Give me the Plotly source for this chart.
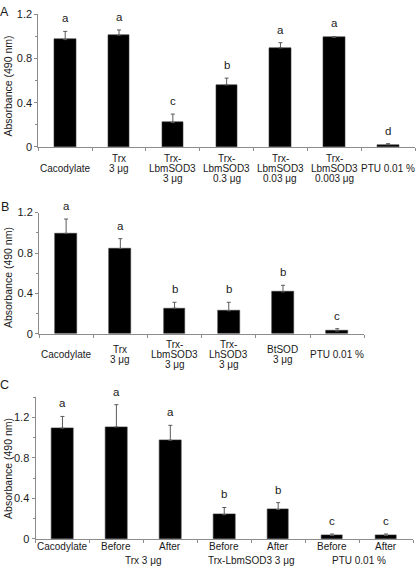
import plotly.graph_objects as go

# ---------------- data ----------------
A_labels = ["Cacodylate", "Trx\n3 μg", "Trx-\nLbmSOD3\n3 μg", "Trx-\nLbmSOD3\n0.3 μg",
            "Trx-\nLbmSOD3\n0.03 μg", "Trx-\nLbmSOD3\n0.003 μg", "PTU 0.01 %"]
A_values = [0.97, 1.01, 0.22, 0.56, 0.895, 0.99, 0.02]
A_errors = [0.074, 0.047, 0.077, 0.062, 0.047, 0.008, 0.01]
A_letters = ["a", "a", "c", "b", "a", "a", "d"]

B_labels = ["Cacodylate", "Trx\n3 μg", "Trx-\nLbmSOD3\n3 μg", "Trx-\nLhSOD3\n3 μg",
            "BtSOD\n3 μg", "PTU 0.01 %"]
B_values = [0.994, 0.845, 0.255, 0.229, 0.416, 0.029]
B_errors = [0.142, 0.097, 0.058, 0.084, 0.065, 0.023]
B_letters = ["a", "a", "b", "b", "b", "c"]

C_labels = ["Cacodylate", "Before", "After", "Before", "After", "Before", "After"]
C_groups = ["Trx 3 μg", "Trx-LbmSOD3 3 μg", "PTU 0.01 %"]
C_group_members = [[1, 2], [3, 4], [5, 6]]
C_values = [1.094, 1.106, 0.974, 0.239, 0.29, 0.033, 0.033]
C_errors = [0.116, 0.22, 0.148, 0.071, 0.068, 0.015, 0.015]
C_letters = ["a", "a", "a", "b", "b", "c", "c"]

y_ticks = [0, 0.4, 0.8, 1.2]
y_title = "Absorbance (490 nm)"

# ---------------- layout helpers ----------------
W, H = 416, 571
FONT = "Liberation Sans, Arial, sans-serif"
TXT = "#1a1a1a"
AXC = "#8c8c8c"


def fx(px):
    return px / W


def fy(px):
    return 1 - px / H


panels = [
    dict(name="A", labels=A_labels, values=A_values, errors=A_errors, letters=A_letters,
         x0=38.3, x1=415, ytop=8.3, ybot=144, ymax=1.2, row_c=165.9, row_sp=9.8, snap=True,
         title_y=82, letter_y=6.5),
    dict(name="B", labels=B_labels, values=B_values, errors=B_errors, letters=B_letters,
         x0=39, x1=364.3, ytop=211, ybot=335, ymax=1.2, row_c=355.7, row_sp=10, snap=False,
         title_y=277.7, letter_y=205),
    dict(name="C", labels=C_labels, values=C_values, errors=C_errors, letters=C_letters,
         x0=35.5, x1=413, ytop=399.6, ybot=544.3, ymax=1.4, row_c=552.6, row_sp=10, snap=False,
         title_y=472.7, letter_y=387.5),
]

fig = go.Figure()
annotations = []

for k, p in enumerate(panels, start=1):
    n = len(p["values"])
    xs = list(range(n))
    xa = "x" if k == 1 else f"x{k}"
    ya = "y" if k == 1 else f"y{k}"
    fig.add_trace(go.Bar(
        x=xs, y=p["values"], width=0.4,
        marker=dict(color="#000000", line=dict(color="#3a3a3a", width=0.6)),
        error_y=dict(type="data", array=p["errors"], arrayminus=[0] * n, symmetric=False,
                     color="#5a5a5a", thickness=1, width=2),
        xaxis=xa, yaxis=ya, showlegend=False, hoverinfo="skip",
    ))
    xkey = "xaxis" if k == 1 else f"xaxis{k}"
    ykey = "yaxis" if k == 1 else f"yaxis{k}"
    fig.layout[xkey] = dict(
        domain=[fx(p["x0"]), fx(p["x1"])], range=[-0.5, n - 0.5], anchor=ya,
        tickmode="array", tickvals=[i - 0.5 for i in range(n + 1)], showticklabels=False,
        ticks="outside", ticklen=3, tickcolor=AXC, showline=True, linecolor=AXC, linewidth=1,
        showgrid=False, zeroline=False, fixedrange=True,
    )
    fig.layout[ykey] = dict(
        domain=[fy(p["ybot"]), fy(p["ytop"])], range=[0, p["ymax"]], anchor=xa,
        tickmode="array", tickvals=y_ticks, ticktext=[f"{t:g}" for t in y_ticks],
        ticks="outside", ticklen=3, tickcolor=AXC, showline=True, linecolor=AXC, linewidth=1,
        minor=dict(tickmode="linear", tick0=0, dtick=0.2, ticks="outside", ticklen=2, tickcolor=AXC),
        showgrid=False, zeroline=False, fixedrange=True,
        tickfont=dict(family=FONT, size=11, color=TXT),
    )

    # significance letters
    for i, (v, e, L) in enumerate(zip(p["values"], p["errors"], p["letters"])):
        annotations.append(dict(x=i, y=v + e, xref=xa, yref=ya, text=L, showarrow=False,
                                yanchor="middle", yshift=13,
                                font=dict(family=FONT, size=11.5, color=TXT)))

    # category labels (one annotation per line)
    for i, lab in enumerate(p["labels"]):
        lines = lab.split("\n")
        m = len(lines)
        start = (3 - m) / 2
        if p["snap"] and m > 1:
            start = 0
        for j, line in enumerate(lines):
            if p["name"] == "C":
                ypx = p["row_c"]
            else:
                ypx = p["row_c"] + (start + j - 1) * p["row_sp"]
            annotations.append(dict(x=i, y=fy(ypx), xref=xa, yref="paper", text=line,
                                    showarrow=False, xanchor="center", yanchor="middle",
                                    font=dict(family=FONT, size=10, color=TXT)))

    # axis title
    annotations.append(dict(x=fx(8.2), y=fy(p["title_y"]), xref="paper", yref="paper",
                            text=y_title, textangle=-90, showarrow=False,
                            xanchor="center", yanchor="middle",
                            font=dict(family=FONT, size=10.5, color=TXT)))
    # panel letter
    annotations.append(dict(x=fx(4.8), y=fy(p["letter_y"]), xref="paper", yref="paper",
                            text=p["name"], showarrow=False, xanchor="center", yanchor="middle",
                            font=dict(family=FONT, size=12.5, color=TXT)))

# group labels for panel C
for g, members in zip(C_groups, C_group_members):
    annotations.append(dict(x=sum(members) / len(members), y=fy(566.7), xref="x3", yref="paper",
                            text=g, showarrow=False, xanchor="center", yanchor="middle",
                            font=dict(family=FONT, size=10, color=TXT)))

fig.update_layout(
    width=W, height=H, margin=dict(l=0, r=0, t=0, b=0),
    paper_bgcolor="white", plot_bgcolor="white",
    font=dict(family=FONT, size=10, color=TXT),
    annotations=annotations, bargap=0,
)

fig.write_html("out.html", config={"displayModeBar": False},
               post_script="document.body.style.margin='0';document.body.style.padding='0';")
